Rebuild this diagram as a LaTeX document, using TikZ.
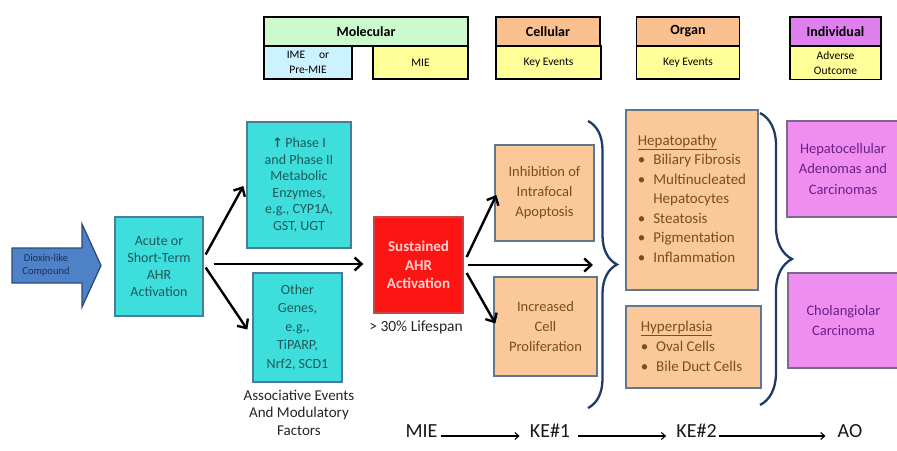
\documentclass[tikz,border=0pt]{standalone}
\usepackage{fontspec}
\setmainfont{Carlito}
\newfontfamily\dejavu{DejaVu Sans}
\usetikzlibrary{arrows.meta,decorations.pathreplacing,calc}
\definecolor{cyF}{HTML}{3EDEDC}
\definecolor{cyD}{HTML}{4C7C98}
\definecolor{cyT}{HTML}{1E5A5A}
\definecolor{orF}{HTML}{FBC999}
\definecolor{orD}{HTML}{5F7890}
\definecolor{orT}{HTML}{7A4E1C}
\definecolor{puF}{HTML}{F08EF0}
\definecolor{puD}{HTML}{7A6A8A}
\definecolor{puT}{HTML}{6A1F8A}
\definecolor{rdF}{HTML}{FF1414}
\definecolor{rdD}{HTML}{C84848}
\definecolor{rdT}{HTML}{FFD2D2}
\definecolor{blF}{HTML}{4F81C8}
\definecolor{blD}{HTML}{2C4A78}
\definecolor{blT}{HTML}{1C2E55}
\definecolor{hGreen}{HTML}{CCFACC}
\definecolor{hBlue}{HTML}{CCF2FF}
\definecolor{hYel}{HTML}{FFFF99}
\definecolor{hOr}{HTML}{FAC090}
\definecolor{hPu}{HTML}{DE80EE}
\definecolor{brc}{HTML}{1F3A66}
\begin{document}
\begin{tikzpicture}[x=1pt,y=-1pt,
  hbox/.style={draw=black, line width=1.3pt, align=center, inner sep=1pt, text=black},
  htitle/.style={hbox, minimum height=29pt, font=\fontsize{14}{16}\selectfont\bfseries},
  hsub/.style={hbox, minimum height=33pt, font=\fontsize{11.5}{15}\selectfont},
  box/.style={draw, line width=1.3pt, align=center, inner sep=2pt},
  cybox/.style={box, fill=cyF, draw=cyD, text=cyT, font=\fontsize{14}{17}\selectfont},
  orbox/.style={box, fill=orF, draw=orD, text=orT, font=\fontsize{14.5}{20}\selectfont},
  pubox/.style={box, fill=puF, draw=puD, text=puT, font=\fontsize{14.5}{20.5}\selectfont},
  rdbox/.style={box, fill=rdF, draw=rdD, text=rdT, font=\fontsize{15}{18.5}\selectfont\bfseries},
  plain/.style={align=center, inner sep=0pt, text=black!85},
  arr/.style={line width=2.4pt, -{Straight Barb[length=7pt,width=13pt]}},
  thinarr/.style={line width=1.1pt, -{Straight Barb[length=4pt,width=7pt]}},
  bot/.style={inner sep=0pt, anchor=base, font=\fontsize{20}{24}\selectfont, text=black!90},
  bracestyle/.style={draw=brc, line width=2.3pt, decorate}
]
\useasboundingbox (0,0) rectangle (897,450);
\fill[white] (0,0) rectangle (897,450);

% ---------- header ----------
\node[htitle, fill=hGreen, minimum width=204pt] (mol) at (366,31.5) {Molecular};
\node[hsub, fill=hBlue, minimum width=88pt] (ime) at (308,62.5) {IME\hspace{14pt}or\\Pre-MIE};
\node[hsub, fill=hYel, minimum width=95pt] (mie) at (420.5,62.5) {MIE};
\node[htitle, fill=hOr, minimum width=104pt] (cel) at (548,31.5) {Cellular};
\node[hsub, fill=hYel, minimum width=105pt] (kecel) at (548.5,62.5) {Key Events};
\node[htitle, fill=hOr, minimum width=103pt] (org) at (688,31.5) {Organ};
\node[hsub, fill=hYel, minimum width=103pt] (keorg) at (688,62.5) {Key Events};
\node[htitle, fill=hPu, minimum width=91pt] (ind) at (835.5,31.5) {Individual};
\node[hsub, fill=hYel, minimum width=91pt] (adv) at (835.5,63) {Adverse\\Outcome};

% ---------- compound arrow ----------
\draw[fill=blF, draw=blD, line width=1.3pt] (12,248) -- (82,248) -- (82,224) -- (101,265.5)
  -- (82,307) -- (82,283) -- (12,283) -- cycle;
\node[plain, text=blT, font=\fontsize{10.5}{13}\selectfont] (comp) at (46,265.5) {Dioxin-like\\Compound};

% ---------- cyan boxes ----------
\node[cybox, minimum width=88pt, minimum height=99pt] (acute) at (159,266.5)
  {Acute or\\Short-Term\\AHR\\Activation};
\node[cybox, minimum width=104pt, minimum height=126pt, font=\fontsize{14}{16.5}\selectfont] (phase) at (299,185)
  {{\dejavu\bfseries\fontsize{13}{13}\selectfont ↑}\,Phase I\\and Phase II\\Metabolic\\Enzymes,\\e.g., CYP1A,\\GST, UGT};
\node[cybox, minimum width=89pt, minimum height=109pt, font=\fontsize{14}{18.5}\selectfont] (other) at (297.5,327.5)
  {Other\\Genes,\\e.g.,\\TiPARP,\\Nrf2, SCD1};
\node[plain, font=\fontsize{15}{17.5}\selectfont] (assoc) at (299,412.5)
  {Associative Events\\And Modulatory\\Factors};

% ---------- red box ----------
\node[rdbox, minimum width=89pt, minimum height=96pt] (sust) at (418.5,265)
  {Sustained\\AHR\\Activation};
\node[plain, font=\fontsize{15.5}{18}\selectfont] (life) at (416,327) {> 30\% Lifespan};

% ---------- orange boxes ----------
\node[orbox, minimum width=99pt, minimum height=96pt] (inhib) at (544.5,193)
  {Inhibition of\\Intrafocal\\Apoptosis};
\node[orbox, minimum width=103pt, minimum height=99pt] (prolif) at (545.5,326.5)
  {Increased\\Cell\\Proliferation};
\node[orbox, minimum width=132pt, minimum height=180pt, font=\fontsize{15}{19.5}\selectfont] (hepat) at (692,200)
  {\begin{tabular}{@{}l@{\hspace{8pt}}l@{}}
   \multicolumn{2}{@{}l}{\underline{Hepatopathy}}\\
   \textbullet & Biliary Fibrosis\\
   \textbullet & Multinucleated\\
               & Hepatocytes\\
   \textbullet & Steatosis\\
   \textbullet & Pigmentation\\
   \textbullet & Inflammation
   \end{tabular}};
\node[orbox, minimum width=135pt, minimum height=82pt, font=\fontsize{15}{20}\selectfont] (hyper) at (693.5,347)
  {\begin{tabular}{@{}l@{\hspace{8pt}}l@{}}
   \multicolumn{2}{@{}l}{\underline{Hyperplasia}}\\
   \textbullet & Oval Cells\\
   \textbullet & Bile Duct Cells\hspace{4pt}
   \end{tabular}};

% ---------- purple boxes ----------
\node[pubox, minimum width=112pt, minimum height=96pt] (hcc) at (843,169)
  {Hepatocellular\\Adenomas and\\Carcinomas};
\node[pubox, minimum width=111pt, minimum height=95pt] (chol) at (843.5,320.5)
  {Cholangiolar\\Carcinoma};

% ---------- braces ----------
\draw[bracestyle, decoration={brace, amplitude=29pt}] (588,121) -- (588,408);
\draw[bracestyle, decoration={brace, amplitude=32pt}] (760,113) -- (760,405);
\coordinate (b1tip) at (593,265);

% ---------- arrows ----------
\draw[arr] ($(acute.east)+(2,-12)$) -- ($(phase.west)+(-3,1)$);
\draw[arr] ($(acute.east)+(2,1)$) -- ($(other.west)+(-5,2)$);
\draw[arr] ($(acute.east)+(10,-2.5)$) -- ($(sust.west)+(-10,-1)$);
\draw[arr] ($(sust.east)+(3,-8)$) -- ($(inhib.west)+(2,2)$);
\draw[arr] ($(sust.east)+(3,8)$) -- ($(prolif.west)+(2,-3)$);
\draw[arr] ($(sust.east)+(4,0)$) -- (b1tip);

% ---------- bottom row ----------
\node[bot] (bmie) at (421.5,437) {MIE};
\node[bot] (bke1) at (550,437) {KE\#1};
\node[bot] (bke2) at (696.5,437) {KE\#2};
\node[bot] (bao) at (850,437) {AO};
\draw[thinarr] ($(bmie.base east)+(3,-1)$) -- ($(bke1.base west)+(-10,-1)$);
\draw[thinarr] ($(bke1.base east)+(8,-1)$) -- ($(bke2.base west)+(-10,-1)$);
\draw[thinarr] ($(bke2.base east)+(2,-1)$) -- ($(bao.base west)+(-12,-1)$);
\end{tikzpicture}
\end{document}
